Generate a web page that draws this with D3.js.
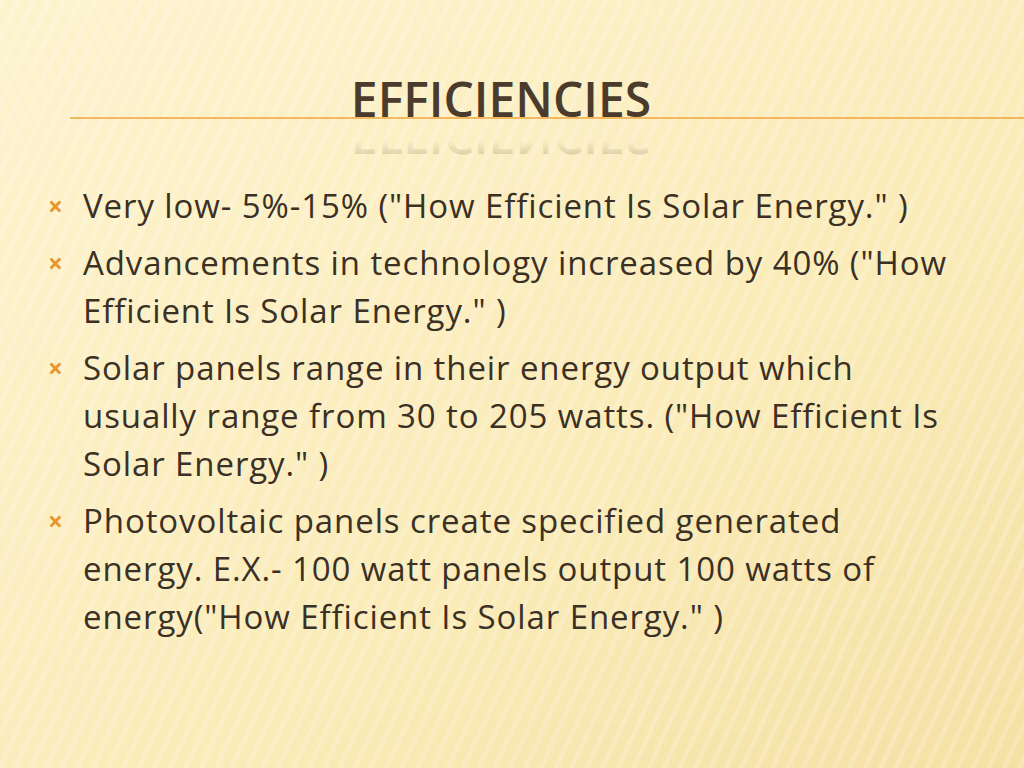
<!DOCTYPE html>
<html><head><meta charset="utf-8">
<script src="https://cdn.jsdelivr.net/npm/d3@7"></script>
<style>body{margin:0;overflow:hidden}</style>
</head><body><svg id="slide"></svg>
<script>
// slide content
const title = "EFFICIENCIES";
const bullets = [
  ["Very low- 5%-15% (\"How Efficient Is Solar Energy.\" )"],
  ["Advancements in technology increased by 40% (\"How", "Efficient Is Solar Energy.\" )"],
  ["Solar panels range in their energy output which", "usually range from 30 to 205 watts. (\"How Efficient Is", "Solar Energy.\" )"],
  ["Photovoltaic panels create specified generated", "energy. E.X.- 100 watt panels output 100 watts of", "energy(\"How Efficient Is Solar Energy.\" )"]
];

const W = 1024, H = 768;
const svg = d3.select("#slide").attr("width", W).attr("height", H);
const defs = svg.append("defs");

const bg = defs.append("linearGradient").attr("id", "bg")
  .attr("x1", 0).attr("y1", 0).attr("x2", 1).attr("y2", 1);
bg.append("stop").attr("offset", "0%").attr("stop-color", "#fdf3cf");
bg.append("stop").attr("offset", "60%").attr("stop-color", "#faebb8");
bg.append("stop").attr("offset", "100%").attr("stop-color", "#f5e0a4");
svg.append("rect").attr("width", W).attr("height", H).attr("fill", "url(#bg)");

// faint diagonal stripes
const pat = defs.append("pattern").attr("id", "stripes")
  .attr("width", 14).attr("height", 14).attr("patternUnits", "userSpaceOnUse")
  .attr("patternTransform", "rotate(25)");
pat.append("rect").attr("width", 5).attr("height", 14).attr("fill", "#fff").attr("opacity", 0.18);
svg.append("rect").attr("width", W).attr("height", H).attr("fill", "url(#stripes)");

// title rule
svg.append("line").attr("x1", 70).attr("x2", W).attr("y1", 118).attr("y2", 118)
  .attr("stroke", "#f0a63c").attr("stroke-width", 1.5);

const fam = "'Liberation Sans Narrow', 'Open Sans', sans-serif";
// title + reflection
svg.append("text").attr("x", 501).attr("y", 117).attr("text-anchor", "middle")
  .attr("font-family", fam).attr("font-size", 48).attr("font-weight", 600)
  .attr("fill", "#4a3b2c").text(title);
const rg = defs.append("linearGradient").attr("id", "fade").attr("x1", 0).attr("y1", 0).attr("x2", 0).attr("y2", 1);
rg.append("stop").attr("offset", "0%").attr("stop-color", "#4a3b2c").attr("stop-opacity", 0.35);
rg.append("stop").attr("offset", "45%").attr("stop-color", "#4a3b2c").attr("stop-opacity", 0);
svg.append("text").attr("transform", "translate(501,119) scale(1,-1)").attr("text-anchor", "middle")
  .attr("font-family", fam).attr("font-size", 48).attr("font-weight", 600)
  .attr("fill", "url(#fade)").text(title);

// bullets
const y0 = 218, lh = 48, gap = 9;
let y = y0;
const g = svg.append("g").attr("font-family", "'Open Sans', sans-serif").attr("fill", "#3b3024");
bullets.forEach(lines => {
  g.append("text").attr("x", 48).attr("y", y - 2).attr("font-size", 26).attr("font-weight", "bold")
    .attr("fill", "#e8962c").text("\u00d7");
  lines.forEach((t, i) => {
    g.append("text").attr("x", 83).attr("y", y + i * lh).attr("font-size", 33)
      .attr("letter-spacing", 0.9).text(t);
  });
  y += lines.length * lh + gap;
});
</script></body></html>
